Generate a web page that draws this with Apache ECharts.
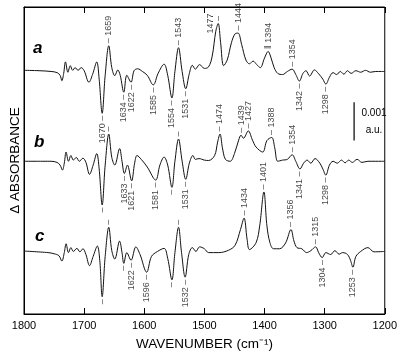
<!DOCTYPE html>
<html>
<head>
<meta charset="utf-8">
<script src="https://cdn.jsdelivr.net/npm/echarts@6/dist/echarts.min.js"></script>
<style>
  html, body { margin: 0; padding: 0; background: #fff; }
  #chart { width: 400px; height: 356px; }
</style>
</head>
<body>
<div id="chart"></div>
<script>
// spectra: [wavenumber, ΔA in units of 0.001 a.u., relative to the trace baseline]
const specA = [
  [1800, 0.03], [1775, 0.02], [1755, 0.0], [1745, -0.03], [1740, -0.1], [1737, -0.24], [1734, -0.05],
  [1731, 0.25], [1727, -0.02], [1723, 0.15], [1719, 0.03], [1715, 0.1], [1710, 0.03], [1705, 0.1],
  [1700, 0.02], [1692, -0.28], [1686, -0.08], [1679, 0.25], [1675, -0.2], [1670, -1.09], [1665, -0.1],
  [1659, 0.67], [1654, 0.1], [1649, -0.11], [1644, 0.04], [1640, -0.1], [1634, -0.54], [1629, -0.1],
  [1622, -0.28], [1617, 0.02], [1611, 0.07], [1603, 0.0], [1595, -0.1], [1585, -0.35], [1577, -0.05],
  [1567, 0.19], [1561, -0.1], [1554, -0.69], [1549, 0.0], [1543, 0.62], [1537, 0.0], [1531, -0.45],
  [1525, -0.05], [1520, 0.16], [1515, 0.06], [1508, 0.18], [1500, 0.08], [1493, 0.12], [1487, 0.4],
  [1481, 1.05], [1477, 1.25], [1473, 0.75], [1468, 0.15], [1462, 0.3], [1455, 0.75], [1449, 0.98],
  [1444, 1.0], [1438, 0.7], [1431, 0.3], [1425, 0.2], [1419, 0.27], [1413, 0.18], [1407, 0.1],
  [1400, 0.35], [1394, 0.52], [1389, 0.35], [1384, 0.1], [1378, -0.05], [1370, -0.08], [1362, 0.0],
  [1354, 0.06], [1348, -0.08], [1342, -0.25], [1336, -0.05], [1331, 0.02], [1325, -0.12], [1317, 0.04],
  [1310, -0.06], [1303, -0.2], [1298, -0.33], [1292, -0.15], [1286, -0.03], [1280, -0.08], [1274, 0.0],
  [1268, -0.07], [1262, 0.02], [1256, -0.05], [1248, 0.02], [1240, -0.02], [1232, 0.03], [1224, -0.02],
  [1215, 0.0], [1200, 0.0]
]
const specB = [
  [1800, 0.0], [1755, 0.0], [1745, -0.03], [1740, -0.1], [1736, -0.23], [1733, -0.05], [1730, 0.24],
  [1726, 0.0], [1722, 0.15], [1718, 0.03], [1713, 0.1], [1708, 0.0], [1702, 0.08], [1697, -0.03],
  [1691, -0.34], [1685, -0.1], [1679, 0.2], [1675, -0.2], [1670, -1.14], [1665, -0.1], [1659, 0.71],
  [1654, 0.1], [1649, -0.1], [1641, 0.33], [1637, 0.0], [1633, -0.32], [1628, -0.1], [1621, -0.51],
  [1616, -0.05], [1612, 0.15], [1605, 0.05], [1595, -0.15], [1581, -0.49], [1574, -0.1], [1567, 0.11],
  [1561, -0.1], [1554, -0.68], [1549, 0.0], [1543, 0.58], [1537, 0.0], [1531, -0.47], [1525, -0.05],
  [1519, 0.15], [1515, 0.05], [1509, 0.07], [1500, 0.03], [1493, 0.02], [1483, 0.15], [1478, 0.5],
  [1474, 0.71], [1470, 0.35], [1465, 0.05], [1457, 0.0], [1450, 0.2], [1443, 0.55], [1439, 0.68],
  [1435, 0.6], [1427, 0.79], [1420, 0.55], [1414, 0.37], [1403, 0.24], [1396, 0.54], [1388, 0.62],
  [1383, 0.35], [1378, 0.0], [1370, 0.03], [1362, 0.05], [1354, 0.17], [1348, 0.0], [1341, -0.2],
  [1335, -0.05], [1329, 0.03], [1323, -0.05], [1316, 0.07], [1308, -0.05], [1303, -0.2], [1298, -0.36],
  [1292, -0.1], [1286, 0.0], [1279, -0.05], [1272, 0.03], [1266, -0.04], [1260, 0.03], [1254, -0.03],
  [1246, 0.05], [1238, -0.03], [1228, 0.0], [1215, 0.0], [1200, 0.0]
]
const specC = [
  [1800, 0.04], [1760, 0.0], [1750, -0.03], [1742, -0.08], [1737, -0.22], [1733, 0.0], [1730, 0.23],
  [1726, 0.0], [1722, 0.13], [1718, 0.03], [1712, 0.11], [1707, 0.02], [1702, 0.1], [1697, -0.05],
  [1691, -0.34], [1685, -0.1], [1678, 0.17], [1674, -0.2], [1670, -1.15], [1665, -0.1], [1659, 0.66],
  [1654, 0.05], [1649, -0.17], [1641, 0.3], [1637, 0.0], [1634, -0.28], [1629, 0.0], [1622, -0.2],
  [1614, 0.15], [1607, -0.05], [1596, -0.51], [1588, -0.1], [1578, 0.03], [1567, 0.11], [1561, -0.15],
  [1554, -0.71], [1549, 0.0], [1543, 0.66], [1538, 0.0], [1532, -0.64], [1526, -0.05], [1520, 0.13],
  [1514, 0.03], [1508, 0.15], [1500, 0.1], [1493, 0.0], [1476, 0.0], [1460, 0.06], [1449, 0.19],
  [1440, 0.6], [1434, 0.9], [1429, 0.35], [1425, 0.08], [1414, 0.26], [1408, 0.7], [1401, 1.58],
  [1396, 0.7], [1391, 0.26], [1385, 0.1], [1375, 0.1], [1365, 0.25], [1356, 0.6], [1351, 0.3],
  [1346, 0.13], [1338, 0.1], [1330, 0.0], [1323, 0.05], [1315, 0.15], [1310, 0.0], [1304, -0.13],
  [1298, 0.0], [1290, -0.05], [1283, 0.05], [1276, -0.04], [1270, 0.0], [1262, -0.05], [1257, -0.2],
  [1253, -0.38], [1248, -0.1], [1240, 0.03], [1228, 0.13], [1218, 0.02], [1200, 0.03]
]

// vertical offsets of the three traces (0.001 a.u.)
const baseA = 6.32
const baseB = 3.98
const baseC = 1.6

// band labels: above the curve (peaks) / below it (troughs)
const upA = [1659, 1543, 1444, 1394, 1354]
const downA = [1670, 1634, 1622, 1585, 1554, 1531, 1342, 1298]
const upB = [1474, 1439, 1427, 1388, 1354]
const downB = [1633, 1621, 1581, 1531, 1341, 1298]
const upC = [1434, 1401, 1356, 1315]
const downC = [1622, 1596, 1532, 1304, 1253]
// label put beside the peak (no room above)
const sideA = [1477]
// bare tick marks with no number
const tickUpA = [1477]
const tickUpB = [1659, 1543]
const tickDownB = [1670, 1554]
const tickUpC = [1659, 1543]
const tickDownC = [1670, 1634, 1554]

// scale bar: 0.001 a.u.
const scaleWn = 1251
const scaleFrom = 4.52
const scaleLen = 1

const FONT = 'Liberation Sans Narrow, Liberation Sans, Arial, sans-serif'

const valueAt = (spec, wn) =>
  spec.reduce((best, p) => (Math.abs(p[0] - wn) < Math.abs(best[0] - wn) ? p : best))[1]

const shift = (spec, base) => spec.map(p => [p[0], p[1] + base])

const labelStyles = {
  up: { position: 'top', align: 'left', verticalAlign: 'middle', fmt: wn => (wn === 1394 ? '‖ ' : '– ') + wn },
  down: { position: 'bottom', align: 'right', verticalAlign: 'middle', fmt: wn => wn + ' –' },
  tickUp: { position: 'top', align: 'left', verticalAlign: 'middle', fmt: () => '–' },
  tickDown: { position: 'bottom', align: 'right', verticalAlign: 'middle', fmt: () => '–' },
  side: { position: 'left', align: 'center', verticalAlign: 'bottom', fmt: wn => String(wn) }
}

function marks(spec, base, list, kind) {
  const s = labelStyles[kind]
  return list.map(wn => ({
    value: [wn, valueAt(spec, wn) + base],
    label: {
      show: true,
      position: s.position,
      align: s.align,
      verticalAlign: s.verticalAlign,
      rotate: 90,
      distance: kind === 'side' ? 3 : 2,
      formatter: s.fmt(wn),
      fontSize: 9,
      fontFamily: FONT,
      color: '#111'
    }
  }))
}

const annotations = [].concat(
  marks(specA, baseA, upA, 'up'),
  marks(specA, baseA, downA, 'down'),
  marks(specA, baseA, sideA, 'side'),
  marks(specA, baseA, tickUpA, 'tickUp'),
  marks(specB, baseB, upB, 'up'),
  marks(specB, baseB, downB, 'down'),
  marks(specB, baseB, tickUpB, 'tickUp'),
  marks(specB, baseB, tickDownB, 'tickDown'),
  marks(specC, baseC, upC, 'up'),
  marks(specC, baseC, downC, 'down'),
  marks(specC, baseC, tickUpC, 'tickUp'),
  marks(specC, baseC, tickDownC, 'tickDown')
)

const traceLine = (name, data) => ({
  name,
  type: 'line',
  data,
  smooth: 0.35,
  showSymbol: false,
  lineStyle: { color: '#111', width: 1 },
  z: 3
})

const chart = echarts.init(document.getElementById('chart'))
chart.setOption({
  animation: false,
  backgroundColor: '#fff',
  grid: { left: 22, right: 11, top: 7, bottom: 39, show: true, borderColor: '#000', borderWidth: 1 },
  xAxis: [
    {
      type: 'value',
      min: 1200,
      max: 1800,
      interval: 100,
      inverse: true,
      position: 'bottom',
      axisLine: { lineStyle: { color: '#000', width: 1 } },
      axisTick: { inside: true, length: 6, lineStyle: { color: '#000' } },
      axisLabel: { color: '#000', fontSize: 11, fontFamily: FONT, margin: 6, formatter: v => String(v) },
      splitLine: { show: false },
      name: 'WAVENUMBER (cm⁻¹)',
      nameLocation: 'middle',
      nameGap: 23,
      nameTextStyle: { color: '#000', fontSize: 13.5, fontFamily: 'Liberation Sans, Arial, sans-serif' }
    },
    {
      type: 'value',
      min: 1200,
      max: 1800,
      interval: 100,
      inverse: true,
      position: 'top',
      axisLine: { lineStyle: { color: '#000', width: 1 } },
      axisTick: { inside: true, length: 6, lineStyle: { color: '#000' } },
      axisLabel: { show: false },
      splitLine: { show: false }
    }
  ],
  yAxis: {
    type: 'value',
    min: 0,
    max: 8,
    axisLine: { show: true, lineStyle: { color: '#000' } },
    axisTick: { show: false },
    axisLabel: { show: false },
    splitLine: { show: false },
    name: 'Δ ABSORBANCE',
    nameLocation: 'middle',
    nameGap: 2,
    nameTextStyle: { color: '#000', fontSize: 13.5, fontFamily: 'Liberation Sans, Arial, sans-serif' }
  },
  graphic: [
    { type: 'text', left: 33, top: 40, style: { text: 'a', font: 'italic bold 17px Liberation Sans, Arial', fill: '#000' } },
    { type: 'text', left: 34, top: 134, style: { text: 'b', font: 'italic bold 17px Liberation Sans, Arial', fill: '#000' } },
    { type: 'text', left: 35, top: 228, style: { text: 'c', font: 'italic bold 17px Liberation Sans, Arial', fill: '#000' } },
    { type: 'text', x: 374, y: 113, style: { text: '0.001', font: '10px Liberation Sans, Arial', fill: '#000', textAlign: 'center', textVerticalAlign: 'middle' } },
    { type: 'text', x: 374, y: 130, style: { text: 'a.u.', font: '10px Liberation Sans, Arial', fill: '#000', textAlign: 'center', textVerticalAlign: 'middle' } }
  ],
  series: [
    traceLine('a', shift(specA, baseA)),
    traceLine('b', shift(specB, baseB)),
    traceLine('c', shift(specC, baseC)),
    {
      name: 'scale',
      type: 'line',
      data: [[scaleWn, scaleFrom], [scaleWn, scaleFrom + scaleLen]],
      showSymbol: false,
      lineStyle: { color: '#000', width: 1.2 },
      z: 3
    },
    {
      name: 'bands',
      type: 'scatter',
      data: annotations,
      symbolSize: 1,
      itemStyle: { color: 'rgba(0,0,0,0)' },
      z: 4
    }
  ]
})
</script>
</body>
</html>
